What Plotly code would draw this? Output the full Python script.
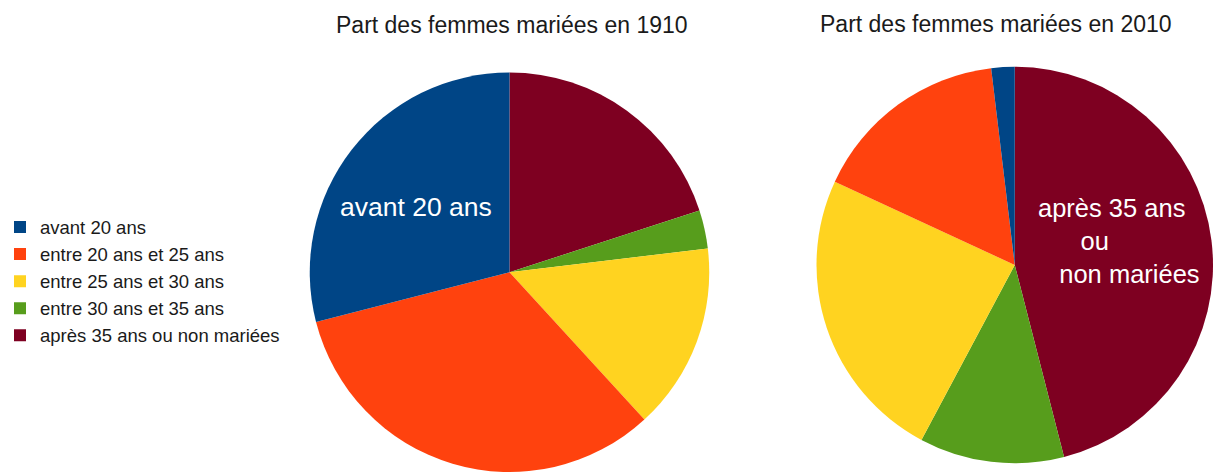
import plotly.graph_objects as go

categories = ["avant 20 ans", "entre 20 ans et 25 ans", "entre 25 ans et 30 ans",
              "entre 30 ans et 35 ans", "après 35 ans ou non mariées"]
values_1910 = [29.0, 32.8, 15.1, 3.1, 20.0]
values_2010 = [1.9, 16.2, 24.1, 11.8, 46.0]
colors = ["#004586", "#ff420e", "#ffd320", "#579d1c", "#7e0021"]
titles = ["Part des femmes mariées en 1910", "Part des femmes mariées en 2010"]
label_1910 = "avant 20 ans"
label_2010 = ["après 35 ans", "ou", "non mariées"]

W, H = 1213, 472
FONT = "Liberation Sans, Arial, sans-serif"
NB = "\u00a0"


def px(x):
    return x / W


def py(y):
    return 1 - y / H


# slices run clockwise from 12 o'clock in reverse category order (as in the original)
fig = go.Figure()
fig.add_trace(go.Pie(
    labels=categories[::-1], values=values_1910[::-1], sort=False, direction="clockwise",
    rotation=0, marker=dict(colors=colors[::-1], line=dict(width=0)), textinfo="none",
    hoverinfo="label+percent", domain=dict(x=[px(309.5), px(709.5)], y=[0, py(72.5)]),
    showlegend=True,
))
fig.add_trace(go.Pie(
    labels=categories[::-1], values=values_2010[::-1], sort=False, direction="clockwise",
    rotation=0, marker=dict(colors=colors[::-1], line=dict(width=0)), textinfo="none",
    hoverinfo="label+percent", domain=dict(x=[px(816.5), 1], y=[py(463.25), py(66.75)]),
    showlegend=False,
))

label2 = "<br>".join([label_2010[0], NB * 6 + label_2010[1], NB * 3 + label_2010[2]])

annotations = [
    dict(text=titles[0], x=px(511.5), y=py(25), xanchor="center",
         font=dict(size=23, color="#1a1a1a")),
    dict(text=titles[1], x=px(996), y=py(24), xanchor="center",
         font=dict(size=23, color="#1a1a1a")),
    dict(text=label_1910, x=px(416), y=py(207), xanchor="center",
         font=dict(size=26.5, color="white")),
    dict(text=label2, x=px(1036), y=py(241), xanchor="left", align="left",
         font=dict(size=25.5, color="white")),
]
for a in annotations:
    a.update(xref="paper", yref="paper", showarrow=False, yanchor="middle")

fig.update_layout(
    width=W, height=H, margin=dict(l=0, r=0, t=0, b=0),
    paper_bgcolor="white", plot_bgcolor="white",
    font=dict(family=FONT, color="#1a1a1a"),
    annotations=annotations,
    legend=dict(x=0, xanchor="left", y=py(281.5), yanchor="middle", traceorder="reversed",
                font=dict(size=18.5, color="#1a1a1a"), bgcolor="rgba(0,0,0,0)"),
)

fig.write_html("out.html")
